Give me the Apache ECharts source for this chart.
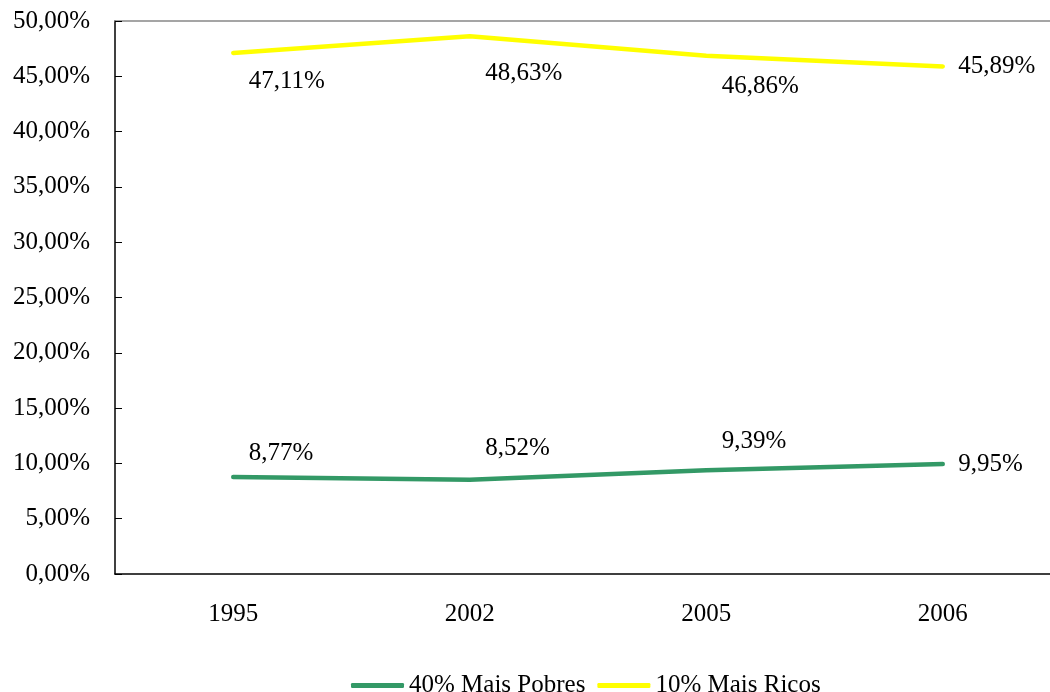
<!DOCTYPE html>
<html><head><meta charset="utf-8">
<script src="https://cdn.jsdelivr.net/npm/echarts@6/dist/echarts.min.js"></script>
<style>html,body{margin:0;padding:0;background:#fff;overflow:hidden}#c{width:1066px;height:692px}</style>
</head><body><div id="c"></div>
<script>
const categories = ['1995', '2002', '2005', '2006'];
const pobres = [8.77, 8.52, 9.39, 9.95];
const ricos = [47.11, 48.63, 46.86, 45.89];
const seriesNames = ['40% Mais Pobres', '10% Mais Ricos'];

// label placement (styling only)
const pobresLabelDy = [-24, -31, -29, 0];
const ricosLabelDy = [28, 37, 31, 0];

const FONT = '"Liberation Serif", "Times New Roman", serif';
const FS = 25;
const fmt = v => v.toFixed(2).replace('.', ',') + '%';

function mkData(vals, dys) {
  return vals.map((v, i) => ({ value: v, label: { offset: [0, dys[i]] } }));
}

const chart = echarts.init(document.getElementById('c'));
chart.setOption({
  animation: false,
  backgroundColor: '#fff',
  textStyle: { fontFamily: FONT },
  grid: { left: 115, top: 21, width: 946, bottom: 118 },
  legend: {
    left: 346, top: 668,
    itemWidth: 53, itemHeight: 5, itemGap: 12,
    icon: 'roundRect',
    textStyle: { fontFamily: FONT, fontSize: FS, color: '#000' },
    data: seriesNames
  },
  xAxis: [{
    type: 'category', data: categories, boundaryGap: true,
    axisLine: { lineStyle: { color: '#000', width: 1.5 } },
    axisTick: { inside: true, length: 8, lineStyle: { color: '#666' } },
    axisLabel: { fontFamily: FONT, fontSize: FS, color: '#000', margin: 28 }
  }, {
    type: 'category', data: categories, position: 'top',
    axisLine: { lineStyle: { color: '#888', width: 1.5 } },
    axisTick: { show: false }, axisLabel: { show: false }
  }],
  yAxis: {
    type: 'value', min: 0, max: 50, interval: 5,
    axisLine: { show: true, lineStyle: { color: '#000', width: 1.5 } },
    axisTick: { show: true, inside: true, length: 7, lineStyle: { color: '#000' } },
    splitLine: { show: false },
    axisLabel: { fontFamily: FONT, fontSize: FS, color: '#000', margin: 25, formatter: v => fmt(v) }
  },
  series: [{
    name: seriesNames[0], type: 'line', data: mkData(pobres, pobresLabelDy),
    symbol: 'circle', symbolSize: 1,
    lineStyle: { color: '#339966', width: 4.5, cap: 'round' },
    itemStyle: { color: '#339966' },
    label: { show: true, position: 'right', distance: 15, fontFamily: FONT, fontSize: FS, color: '#000', formatter: p => fmt(p.value) }
  }, {
    name: seriesNames[1], type: 'line', data: mkData(ricos, ricosLabelDy),
    symbol: 'circle', symbolSize: 1,
    lineStyle: { color: '#FFFF00', width: 4.5, cap: 'round' },
    itemStyle: { color: '#FFFF00' },
    label: { show: true, position: 'right', distance: 15, fontFamily: FONT, fontSize: FS, color: '#000', formatter: p => fmt(p.value) }
  }]
});
</script></body></html>
